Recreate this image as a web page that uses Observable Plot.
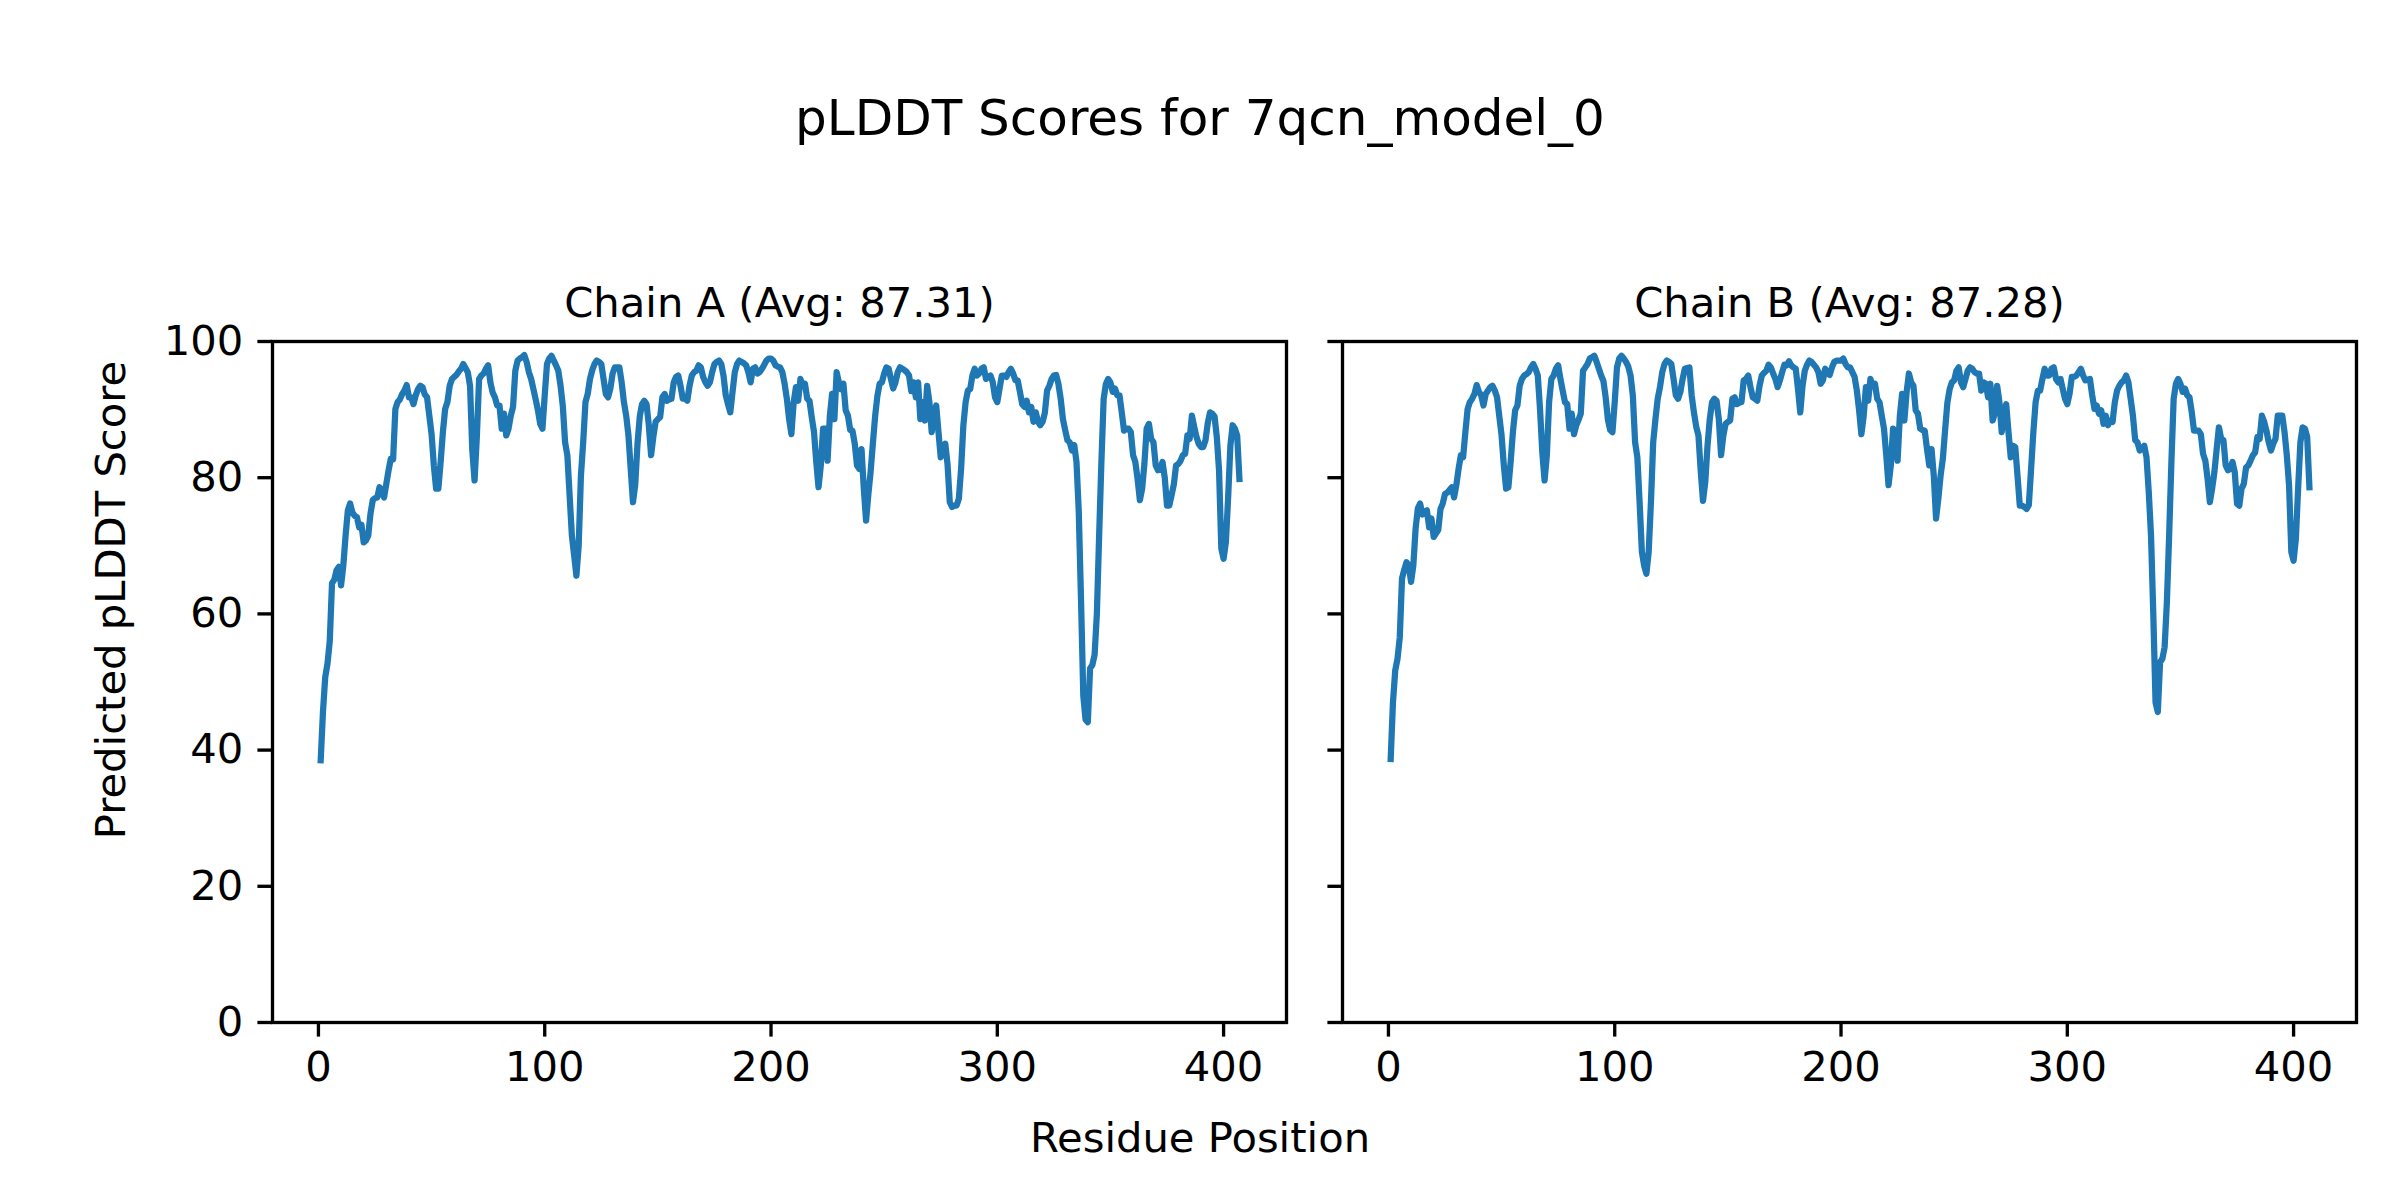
<!DOCTYPE html>
<html>
<head>
<meta charset="utf-8">
<script src="https://cdn.jsdelivr.net/npm/d3@7"></script>
<script src="https://cdn.jsdelivr.net/npm/@observablehq/plot@0.6"></script>
<style>
  html, body { margin: 0; padding: 0; background: #ffffff; }
  #fig { position: relative; width: 2400px; height: 1200px; overflow: hidden; background: #ffffff;
         font-family: "DejaVu Sans", sans-serif; color: #000; }
  .t { position: absolute; white-space: nowrap; line-height: 1; }
  .panel { position: absolute; top: 0; }
</style>
</head>
<body>
<div id="fig"></div>
<script>
// ---------------- data ----------------
const figTitle = "pLDDT Scores for 7qcn_model_0";
const xLabel = "Residue Position";
const yLabel = "Predicted pLDDT Score";
const chainTitles = ["Chain A (Avg: 87.31)", "Chain B (Avg: 87.28)"];
const xTicks = [0, 100, 200, 300, 400];
const yTicks = [0, 20, 40, 60, 80, 100];
const xDomain = [-20.3, 427.8];
const yDomain = [0, 100];

const chainA = [
  38.5, 45.6, 50.7, 52.7, 56.0, 64.5, 65.0, 66.4, 66.9, 64.2,
  67.1, 71.5, 75.2, 76.2, 74.9, 74.4, 74.2, 72.7, 73.1, 70.5,
  70.8, 71.5, 74.7, 76.7, 77.0, 77.1, 78.6, 78.0, 77.1, 79.1,
  81.1, 82.8, 82.7, 90.1, 91.1, 91.5, 92.3, 92.8, 93.6, 91.8,
  91.8, 90.8, 92.1, 93.0, 93.5, 93.3, 92.2, 91.8, 89.1, 86.4,
  81.8, 78.4, 78.4, 82.3, 86.7, 90.1, 91.1, 93.5, 94.5, 94.8,
  95.1, 95.6, 96.0, 96.7, 96.1, 95.5, 93.5, 84.0, 79.6, 86.0,
  94.5, 95.0, 95.3, 96.0, 96.5, 94.0, 92.5, 91.8, 90.6, 90.6,
  87.2, 89.4, 86.2, 87.2, 89.1, 90.4, 95.7, 97.2, 97.5, 97.7,
  98.0, 97.0, 95.5, 94.5, 93.0, 91.5, 89.9, 87.9, 87.2, 92.1,
  96.7, 97.5, 97.9, 97.2, 96.5, 95.7, 93.5, 90.5, 85.2, 83.3,
  77.4, 71.5, 68.6, 65.6, 70.0, 80.3, 85.2, 91.1, 92.3, 94.5,
  95.8, 96.7, 97.2, 97.0, 96.7, 94.5, 92.3, 91.8, 93.1, 95.3,
  96.2, 96.2, 96.2, 94.0, 91.1, 89.1, 86.2, 81.3, 76.4, 79.0,
  85.0, 89.0, 90.8, 91.3, 90.8, 87.7, 83.3, 86.0, 88.2, 88.6,
  88.9, 91.8, 92.3, 91.3, 91.5, 91.6, 94.0, 94.8, 95.0, 93.5,
  91.6, 91.6, 91.3, 93.5, 95.0, 95.5, 95.7, 96.5, 96.2, 94.8,
  94.0, 93.5, 94.0, 95.5, 96.7, 97.0, 97.2, 96.7, 95.0, 92.1,
  90.8, 89.6, 92.6, 95.5, 96.7, 97.2, 97.0, 96.8, 96.5, 95.5,
  94.0, 96.0, 96.2, 95.3, 95.5, 96.0, 96.6, 97.2, 97.5, 97.5,
  97.2, 96.5, 96.3, 96.2, 95.5, 93.8, 91.6, 88.6, 86.4, 91.0,
  93.3, 91.3, 94.5, 93.5, 93.8, 91.6, 91.3, 88.9, 86.7, 82.3,
  78.6, 81.8, 87.2, 87.2, 82.5, 89.1, 92.3, 88.6, 95.5, 94.0,
  93.0, 93.8, 89.9, 89.1, 87.0, 86.9, 85.0, 81.8, 81.3, 84.2,
  78.4, 73.7, 77.5, 80.8, 85.0, 89.0, 92.0, 93.8, 94.0, 95.3,
  96.2, 96.0, 94.5, 93.1, 94.0, 95.5, 96.2, 96.0, 95.8, 95.5,
  95.0, 92.7, 94.0, 91.8, 94.0, 88.6, 91.1, 88.4, 93.5, 91.1,
  86.7, 89.1, 90.6, 86.7, 83.0, 84.2, 85.0, 82.0, 76.4, 75.7,
  75.9, 75.9, 76.9, 81.3, 87.7, 91.1, 92.8, 93.0, 95.0, 96.0,
  95.0, 95.3, 96.0, 96.2, 94.5, 94.8, 95.0, 94.0, 91.8, 91.1,
  93.1, 95.0, 95.0, 94.8, 95.5, 96.0, 95.3, 94.3, 94.3, 92.6,
  90.8, 90.4, 91.3, 89.6, 90.4, 88.2, 89.6, 88.2, 87.7, 88.2,
  89.5, 92.8, 93.5, 94.5, 95.0, 95.1, 93.8, 91.6, 88.6, 87.0,
  85.5, 85.2, 84.0, 84.8, 82.3, 75.0, 62.0, 48.0, 44.5, 44.1,
  52.0, 52.5, 54.0, 60.0, 71.5, 82.3, 91.6, 93.8, 94.5, 94.0,
  92.6, 93.1, 92.1, 92.1, 89.6, 86.9, 87.2, 87.2, 86.7, 83.3,
  82.3, 79.8, 76.7, 78.4, 82.0, 87.2, 87.9, 85.7, 85.2, 81.8,
  81.1, 81.3, 82.3, 80.0, 75.9, 75.9, 77.4, 79.0, 81.8, 82.0,
  82.5, 83.3, 83.5, 86.2, 85.7, 89.1, 87.5, 86.0, 85.0, 84.5,
  84.5, 85.5, 88.0, 89.6, 89.4, 89.0, 86.0, 81.0, 69.6, 68.1,
  70.5, 77.0, 84.7, 87.7, 87.2, 86.2, 79.8
];

const chainB = [
  38.7, 47.0, 51.7, 53.4, 56.5, 65.2, 66.5, 67.6, 67.1, 64.7,
  67.1, 72.5, 75.5, 76.2, 74.6, 75.0, 75.2, 72.7, 74.0, 71.3,
  71.8, 72.3, 75.4, 76.2, 77.6, 77.8, 78.2, 78.6, 77.1, 78.9,
  81.3, 83.3, 83.0, 86.7, 90.1, 91.1, 91.6, 92.3, 93.6, 92.6,
  92.1, 90.6, 92.3, 92.8, 93.3, 93.5, 92.8, 91.8, 89.0, 86.2,
  81.8, 78.4, 78.6, 82.3, 86.7, 89.9, 90.6, 93.5, 94.5, 95.0,
  95.2, 95.5, 96.2, 96.7, 96.0, 95.0, 90.0, 83.7, 79.6, 83.3,
  91.1, 94.5, 95.0, 96.0, 96.5, 94.5, 92.8, 91.1, 90.8, 87.2,
  89.4, 86.4, 87.7, 88.5, 89.4, 95.7, 96.2, 96.7, 97.5, 97.7,
  97.9, 97.0, 96.0, 95.0, 94.2, 91.8, 88.5, 87.0, 86.7, 91.1,
  96.2, 97.5, 97.9, 97.5, 97.0, 96.3, 95.0, 92.1, 85.2, 83.0,
  76.4, 69.1, 67.1, 65.9, 69.1, 76.4, 85.2, 88.6, 91.6, 93.3,
  95.5, 96.7, 97.2, 97.0, 96.7, 94.5, 92.1, 91.6, 92.6, 94.5,
  96.0, 96.1, 96.2, 92.1, 89.6, 87.5, 86.2, 81.0, 76.6, 79.3,
  84.7, 88.6, 91.1, 91.6, 91.3, 88.6, 83.3, 86.2, 87.9, 88.2,
  88.4, 91.6, 91.8, 90.8, 91.0, 91.1, 94.3, 94.5, 95.0, 93.3,
  91.8, 91.6, 91.3, 93.5, 95.0, 95.4, 95.7, 96.6, 96.2, 95.3,
  94.5, 93.3, 94.3, 95.5, 96.6, 96.5, 97.1, 96.5, 96.2, 96.0,
  93.0, 89.6, 93.5, 95.7, 96.6, 97.2, 97.0, 96.6, 96.2, 95.5,
  93.8, 94.3, 96.0, 95.3, 95.1, 96.2, 97.0, 97.2, 97.2, 97.2,
  97.5, 96.7, 96.2, 96.2, 95.5, 94.8, 92.8, 89.9, 86.4, 89.0,
  93.3, 91.3, 94.5, 93.5, 93.8, 91.6, 91.1, 89.1, 87.2, 83.3,
  78.9, 81.8, 87.2, 86.9, 82.5, 89.1, 92.3, 88.4, 92.6, 95.3,
  94.0, 93.5, 89.9, 89.4, 87.2, 87.0, 86.9, 84.2, 81.8, 84.2,
  80.3, 74.0, 76.9, 80.3, 82.8, 87.0, 91.0, 93.0, 94.0, 94.3,
  95.7, 96.2, 94.0, 93.3, 94.5, 95.7, 96.2, 96.0, 95.5, 95.3,
  95.3, 92.8, 94.0, 93.8, 91.8, 93.8, 88.4, 89.5, 93.5, 91.1,
  86.7, 89.6, 90.8, 86.7, 83.0, 84.7, 84.5, 80.3, 75.9, 75.9,
  75.7, 75.4, 76.0, 81.3, 86.7, 91.1, 92.8, 92.8, 94.5, 96.0,
  95.0, 95.0, 96.0, 96.2, 94.5, 94.0, 94.5, 93.0, 91.6, 90.8,
  92.3, 94.8, 94.8, 95.0, 95.5, 96.0, 95.0, 94.3, 94.4, 94.5,
  92.1, 90.1, 90.6, 89.4, 89.9, 87.9, 89.1, 87.7, 88.4, 88.2,
  91.1, 92.8, 93.5, 94.0, 94.3, 95.0, 94.0, 91.6, 89.1, 85.5,
  85.2, 84.0, 84.3, 84.7, 83.0, 77.9, 71.5, 60.0, 47.0, 45.6,
  52.9, 53.4, 55.1, 61.7, 71.5, 82.3, 91.6, 93.8, 94.5, 93.8,
  92.6, 93.1, 92.1, 91.8, 89.6, 86.9, 86.9, 86.9, 86.4, 83.5,
  82.5, 79.8, 76.4, 78.4, 80.8, 84.2, 87.4, 85.7, 85.5, 81.8,
  81.1, 81.3, 82.3, 80.8, 76.2, 75.9, 78.4, 79.1, 81.5, 81.8,
  82.5, 83.3, 83.7, 86.0, 85.7, 89.1, 88.2, 86.9, 85.2, 84.0,
  85.0, 85.7, 89.1, 89.1, 89.1, 86.7, 83.3, 78.9, 69.1, 67.8,
  71.0, 78.4, 85.2, 87.4, 87.2, 86.0, 78.6
];

// residue positions are 1-based indices of the score lists
const residuesA = chainA.map((_, i) => i + 1);
const residuesB = chainB.map((_, i) => i + 1);

// ---------------- drawing ----------------
const LINE_BLUE = "#1f77b4";
const FONT = "DejaVu Sans";
const TICK_FS = 41.7;

function panel(residues, scores, title, showYLabels, width, marginLeft, marginRight) {
  const rows = residues.map((r, i) => ({residue: r, score: scores[i]}));
  const yAxisOpts = {
    ticks: yTicks, tickSize: 14.6, tickPadding: 14.6, strokeWidth: 3.33,
    label: null, fontSize: TICK_FS
  };
  if (!showYLabels) yAxisOpts.fill = "none";
  return Plot.plot({
    width, height: 1200,
    marginLeft, marginRight, marginTop: 341, marginBottom: 178,
    x: {domain: xDomain},
    y: {domain: yDomain},
    style: {fontFamily: FONT, fontSize: TICK_FS + "px", background: "transparent", overflow: "visible", color: "black"},
    marks: [
      Plot.line(rows, {x: "residue", y: "score", stroke: LINE_BLUE, strokeWidth: 6.25, strokeLinejoin: "round", strokeLinecap: "square"}),
      Plot.frame({stroke: "black", strokeWidth: 3.33}),
      Plot.axisX({ticks: xTicks, tickSize: 14.6, tickPadding: 14.6, strokeWidth: 3.33, label: null, fontSize: TICK_FS}),
      Plot.axisY(yAxisOpts),
      Plot.text([title], {frameAnchor: "top", lineAnchor: "bottom", dy: -25, fontSize: TICK_FS, fill: "black", text: d => d})
    ]
  });
}

const fig = document.getElementById("fig");

const pA = panel(residuesA, chainA, chainTitles[0], true, 1300, 272, 14);
pA.classList.add("panel"); pA.style.left = "0px";
fig.appendChild(pA);

const pB = panel(residuesB, chainB, chainTitles[1], false, 1100, 42, 44);
pB.classList.add("panel"); pB.style.left = "1300px";
fig.appendChild(pB);

function addText(str, css) {
  const d = document.createElement("div");
  d.className = "t";
  d.textContent = str;
  Object.assign(d.style, css);
  fig.appendChild(d);
  return d;
}
addText(figTitle, {left: "0px", width: "2400px", textAlign: "center", top: "93px", fontSize: "50px"});
addText(xLabel, {left: "0px", width: "2400px", textAlign: "center", top: "1117px", fontSize: TICK_FS + "px"});
addText(yLabel, {left: "111px", top: "600px", fontSize: TICK_FS + "px", transform: "translate(-50%, -50%) rotate(-90deg)"});
</script>
</body>
</html>
